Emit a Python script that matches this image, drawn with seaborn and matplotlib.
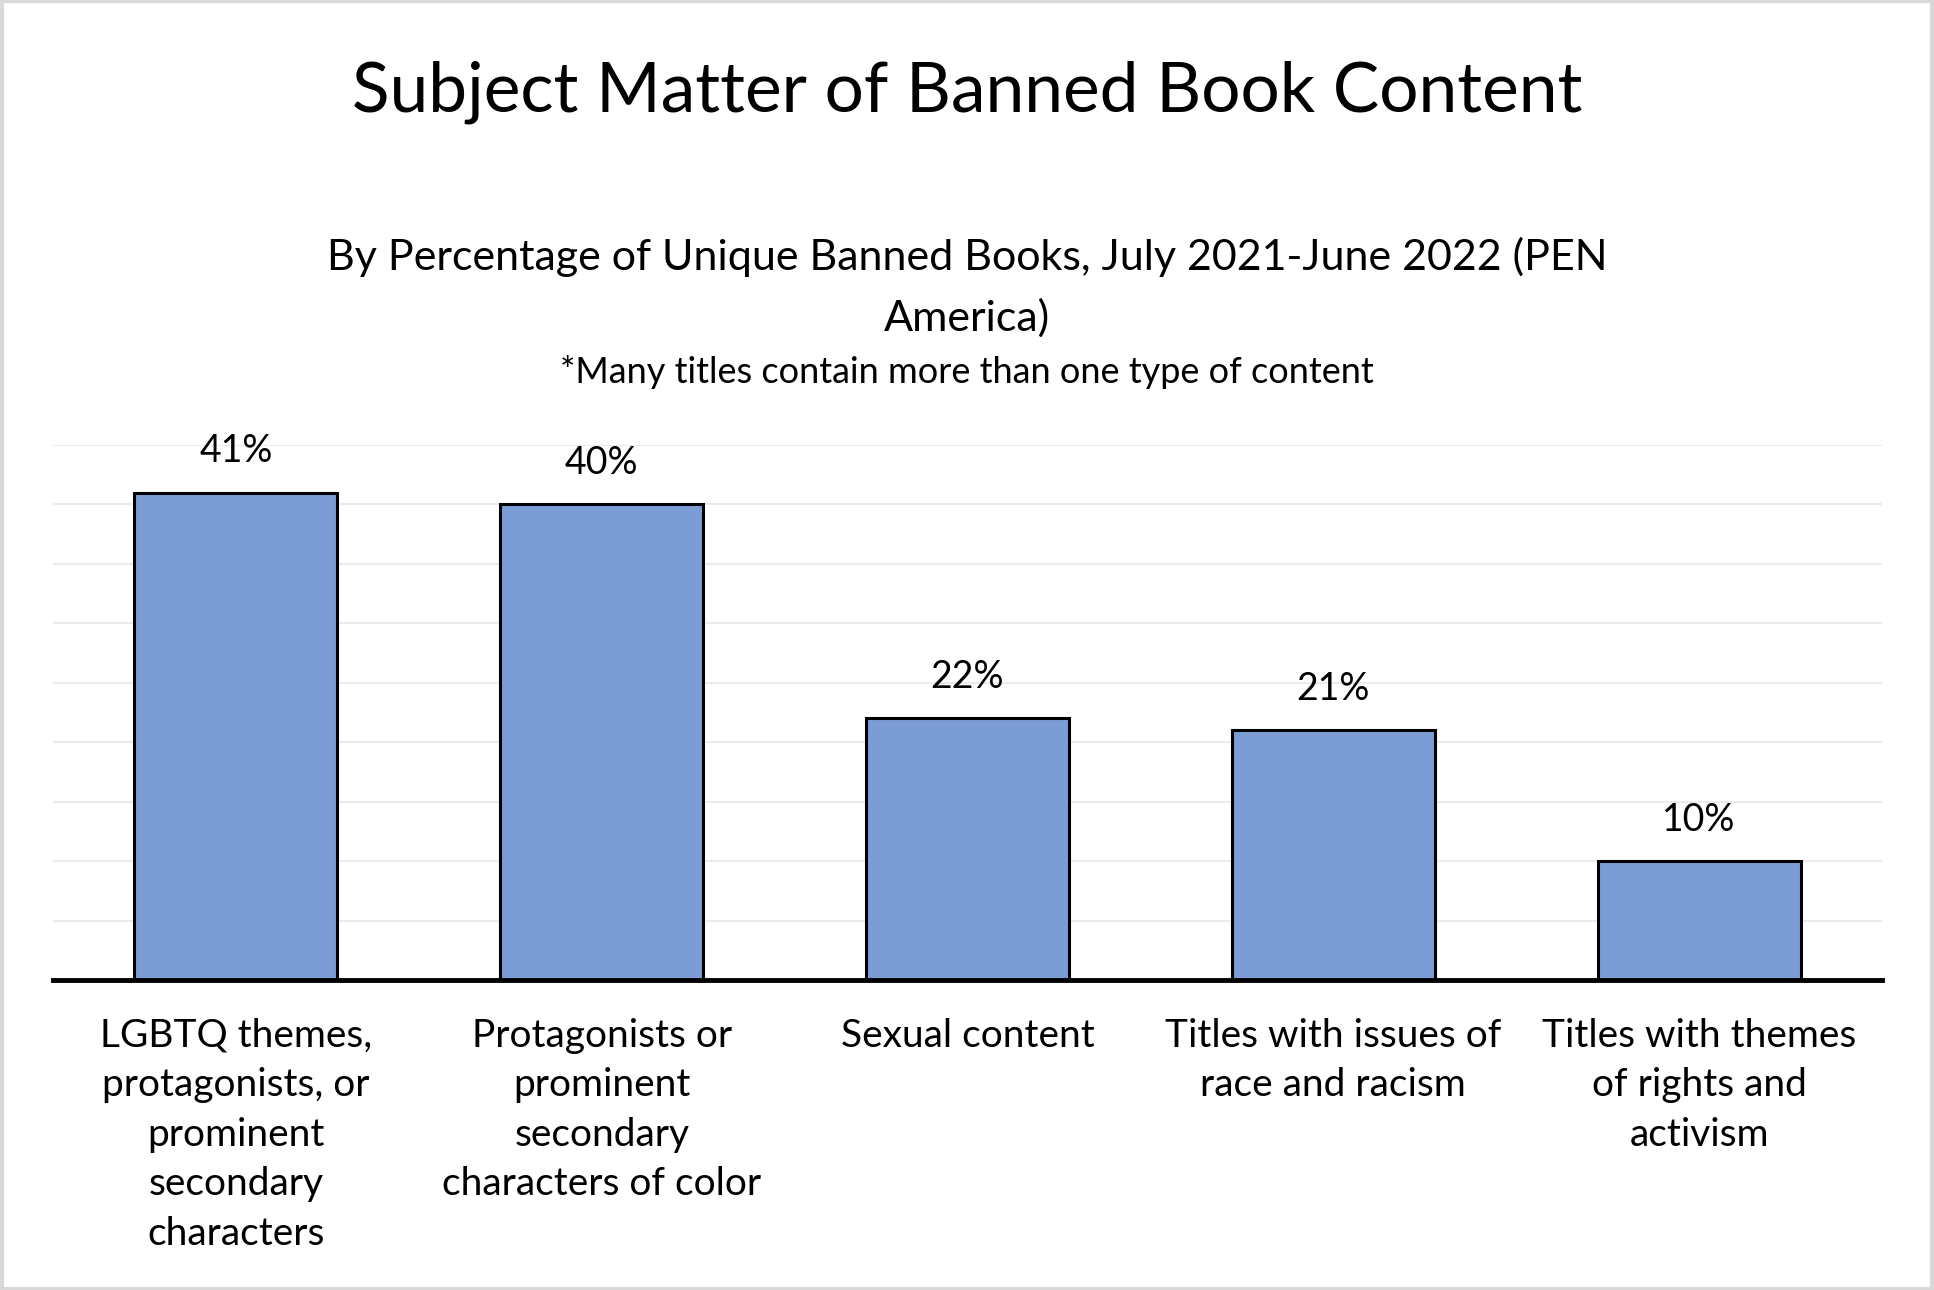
import matplotlib
matplotlib.use("Agg")
import matplotlib.pyplot as plt
import seaborn as sns
import pandas as pd

categories = [
    "LGBTQ themes,\nprotagonists, or\nprominent\nsecondary\ncharacters",
    "Protagonists or\nprominent\nsecondary\ncharacters of color",
    "Sexual content",
    "Titles with issues of\nrace and racism",
    "Titles with themes\nof rights and\nactivism",
]
percent = [41, 40, 22, 21, 10]
grid_ticks = [0, 5, 10, 15, 20, 25, 30, 35, 40, 45]

title = "Subject Matter of Banned Book Content"
subtitle = "By Percentage of Unique Banned Books, July 2021-June 2022 (PEN\nAmerica)"
note = "*Many titles contain more than one type of content"

sns.set_theme(style="white")
plt.rcParams["font.family"] = ["Lato", "DejaVu Sans"]
plt.rcParams["text.color"] = "black"
plt.rcParams["xtick.color"] = "black"
plt.rcParams["xtick.labelcolor"] = "black"

df = pd.DataFrame({"category": categories, "pct": percent})

fig = plt.figure(figsize=(19.34, 12.9), dpi=100)
ax = fig.add_axes([0.0274, 0.2403, 0.9457, 0.4147])

sns.barplot(data=df, x="category", y="pct", color="#7B9CD4", saturation=1,
            width=0.555, edgecolor="black", linewidth=2.2, ax=ax, zorder=3)

ax.set_ylim(0, 45)
ax.set_xlim(-0.5, 4.5)
ax.set_yticks(grid_ticks)
ax.yaxis.grid(True, color="#EBEBEB", linewidth=1.5, zorder=0)
ax.set_axisbelow(True)
ax.tick_params(axis="y", left=False, labelleft=False)
ax.tick_params(axis="x", bottom=False, pad=21, labelsize=28, labelcolor="black")
ax.set_xlabel("")
ax.set_ylabel("")
for side in ["top", "left", "right"]:
    ax.spines[side].set_visible(False)
ax.spines["bottom"].set_linewidth(3.5)
ax.spines["bottom"].set_color("black")
ax.spines["bottom"].set_zorder(4)
for lbl in ax.get_xticklabels():
    lbl.set_linespacing(1.47)

ax.bar_label(ax.containers[0], labels=[f"{v}%" for v in percent],
             padding=17, fontsize=27, color="black")

fig.text(0.5, 0.9287, title, ha="center", va="center", fontsize=50, color="black")
fig.text(0.5, 0.7775, subtitle, ha="center", va="center", fontsize=31,
         linespacing=1.65, color="black")
fig.text(0.5, 0.7116, note, ha="center", va="center", fontsize=26, color="black")

# light grey frame round the picture
fig.patches.append(plt.Rectangle((0.001, 0.001), 0.998, 0.998, transform=fig.transFigure,
                                 fill=False, edgecolor="#D9D9D9", linewidth=3))

fig.savefig("out.png", dpi=100)
